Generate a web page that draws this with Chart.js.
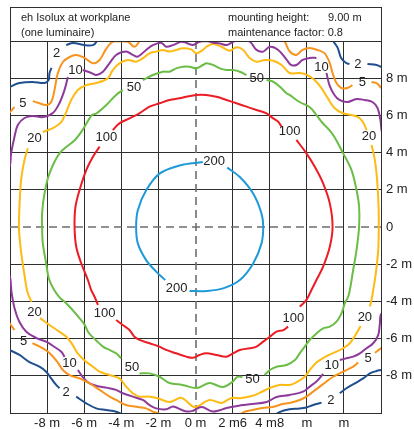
<!DOCTYPE html>
<html>
<head>
<meta charset="utf-8">
<script src="https://cdn.jsdelivr.net/npm/chart.js@4.4.1/dist/chart.umd.min.js"></script>
<style>
  html, body { margin: 0; padding: 0; background: #fff; }
  #box { width: 414px; height: 429px; }
</style>
</head>
<body>
<div id="box"><canvas id="isolux" width="414" height="429"></canvas></div>
<script>
// isolux levels and colours
const levels = ['2', '5', '10', '20', '50', '100', '200'];
const levelColors = ['#1f4f8f', '#f7941d', '#8e3a9a', '#fdbb13', '#6abd45', '#ec1c24', '#1e9ad8'];

// tick text for -10 .. 10 m, step 2
const xTickText = ['', '-8 m', '-6 m', '-4 m', '-2 m', '0 m', '2 m6', '4 m8', 'm', 'm', ''];
const yTickText = ['', '-8 m', '-6 m', '-4 m', '-2 m', '0', '2 m', '4 m', '6 m', '8 m', ''];

// header text
const titleLeft = ['eh Isolux at workplane', '(one luminaire)'];
const titleRight = ['mounting height:', 'maintenance factor: 0.8'];
const mountHeight = '9.00 m';

// contour lines in metres, split where a label sits
const lux2 = [
  [[-10.4,7.4],[-10.03,7.53],[-9.49,7.74],[-8.79,7.8],[-8.14,7.74],[-7.92,7.9],[-7.87,8.28],[-7.76,8.55]],
  [[-6.97,9.78],[-6.61,9.89],[-5.98,9.78],[-5.53,9.78],[-5.35,9.95],[-5.25,10.3]],
  [[7.3,10.4],[7.4,10.05],[7.67,9.62],[7.85,9.09],[8.12,8.82],[8.3,8.76]],
  [[9.27,8.76],[9.76,8.71],[10.03,8.6],[10.4,8.5]],
  [[-10.4,-6.45],[-10.03,-6.61],[-9.49,-6.88],[-8.95,-7.26],[-8.41,-7.51],[-8.05,-7.78],[-7.78,-8.14],[-7.51,-8.49],[-7.33,-8.67]],
  [[-6.43,-9.12],[-5.89,-9.48],[-5.35,-9.75],[-4.82,-9.84],[-4.28,-9.93],[-4.01,-10.05],[-3.8,-10.3]],
  [[4.0,-10.3],[4.53,-9.95],[5.07,-9.8],[5.6,-9.76],[5.98,-9.7],[6.34,-9.57],[6.79,-9.45]],
  [[7.78,-8.94],[8.14,-8.67],[8.59,-8.41],[9.04,-8.14],[9.4,-7.87],[9.76,-7.74],[9.99,-7.69],[10.4,-7.6]]
];
const lux5 = [
  [[-10.3,5.7],[-10.03,6.13],[-9.76,6.45]],
  [[-8.77,6.77],[-8.41,6.65],[-8.05,6.56],[-7.78,6.72],[-7.6,7.37],[-7.42,8.28],[-7.15,8.87],[-6.79,9.14],[-6.43,9.25],[-5.98,9.09],[-5.53,8.8],[-5.17,8.98],[-4.85,9.52],[-4.55,9.91],[-4.28,10.0],[-3.65,9.96],[-3.29,9.69],[-3.02,10.0],[-2.9,10.3]],
  [[4.5,10.4],[4.82,9.96],[5.07,9.45],[5.44,9.25],[5.77,9.52],[6.15,9.62],[6.58,9.52],[6.95,9.35],[7.22,8.87],[7.39,8.28],[7.6,7.74],[7.87,7.47],[8.19,7.47],[8.46,7.63]],
  [[9.49,7.8],[9.76,7.74],[9.97,7.53],[10.3,7.2]],
  [[-10.3,-4.8],[-10.03,-5.16],[-9.76,-5.54]],
  [[-8.79,-6.24],[-8.25,-6.51],[-7.87,-6.77],[-7.44,-7.26],[-7.15,-7.69],[-6.79,-7.96],[-6.25,-8.14],[-5.71,-8.41],[-5.17,-8.76],[-4.63,-9.12],[-4.28,-9.3],[-3.74,-9.57],[-3.2,-9.66],[-2.66,-9.75],[-2.3,-9.93],[-1.94,-10.05],[-1.7,-10.3]],
  [[2.2,-10.3],[2.6,-9.95],[3.07,-9.84],[3.61,-9.73],[4.15,-9.68],[4.69,-9.52],[5.07,-9.46],[5.62,-9.3],[5.98,-9.12],[6.34,-8.85],[6.7,-8.58],[7.06,-8.31],[7.42,-8.05],[7.78,-7.87],[8.14,-7.69],[8.5,-7.51],[8.77,-7.29]],
  [[9.67,-6.76],[9.99,-6.52],[10.3,-6.3]]
];
const lux10 = [
  [[-10.4,2.9],[-10.03,3.24],[-9.94,3.96],[-9.76,4.84],[-9.58,5.48],[-9.22,5.86],[-8.77,5.97],[-8.23,5.91],[-7.69,6.13],[-7.33,6.67],[-7.06,7.37],[-6.88,8.06]],
  [[-6.07,8.44],[-5.62,8.28],[-5.35,8.17],[-4.99,8.35],[-4.64,8.8],[-4.28,9.25],[-3.74,9.43],[-3.38,9.25],[-3.11,9.16],[-2.66,9.52],[-2.3,9.78],[-1.85,9.91],[-1.58,9.69],[-1.22,9.78],[-0.77,9.96],[-0.5,9.91],[-0.14,9.78],[0.21,9.96],[0.59,10.0],[0.95,9.91],[1.31,9.87],[1.67,9.78],[2.03,9.96],[2.39,10.05],[2.93,9.96],[3.29,9.52],[3.65,9.43],[4.01,9.69],[4.46,9.52],[4.91,9.0],[5.15,8.72],[5.44,8.71],[5.77,8.98],[6.15,9.09],[6.52,9.09]],
  [[7.06,8.28],[7.22,7.63],[7.49,7.1],[7.76,6.83],[8.19,6.72],[8.68,6.88],[9.11,6.83],[9.54,6.72],[9.81,6.4],[9.97,5.75],[10.05,5.1],[10.3,4.6]],
  [[-10.4,-2.1],[-10.03,-2.58],[-9.92,-3.49],[-9.76,-4.35],[-9.49,-5.11],[-9.11,-5.65],[-8.57,-5.97],[-8.03,-6.18],[-7.6,-6.45],[-7.22,-6.72],[-7.06,-6.99]],
  [[-6.34,-7.69],[-6.07,-8.08],[-5.71,-8.41],[-5.17,-8.58],[-4.64,-8.67],[-4.28,-8.76],[-3.92,-8.94],[-3.38,-9.12],[-2.84,-9.3],[-2.48,-9.57],[-2.12,-9.75],[-1.58,-9.8],[-1.2,-9.65],[-0.59,-9.89],[-0.2,-9.9],[0.32,-9.68],[0.92,-9.92],[1.3,-9.85],[1.67,-9.73],[2.26,-9.62],[3.07,-9.52],[3.83,-9.41],[4.37,-9.14],[5.07,-9.03],[5.8,-8.85],[6.16,-8.58],[6.52,-8.31],[6.88,-7.9]],
  [[7.78,-7.15],[8.14,-7.06],[8.5,-6.97],[8.86,-6.79],[9.22,-6.52],[9.58,-6.25],[9.85,-5.81],[9.94,-5.18],[9.99,-4.73],[10.3,-4.3]]
];
const lux20 = [
  [[-8.23,5.11],[-7.69,5.32],[-7.24,5.64],[-6.97,6.18],[-6.7,6.83],[-6.34,7.37],[-5.89,7.63],[-5.35,7.74],[-4.73,7.99],[-4.46,8.44],[-4.1,8.8],[-3.65,8.98],[-3.2,8.89],[-2.84,9.07],[-2.48,9.34],[-2.12,9.43],[-1.76,9.52],[-1.4,9.43],[-1.04,9.52],[-0.68,9.61],[-0.23,9.55],[0.04,9.34],[0.4,9.52],[0.59,9.69],[0.95,9.84],[1.4,9.69],[1.85,9.48],[2.21,9.66],[2.57,9.52],[2.93,9.07],[3.29,8.89],[3.74,8.98],[4.19,8.94],[4.64,8.71],[5.07,8.28],[5.61,8.28],[6.04,8.17],[6.42,7.9],[6.79,7.47],[7.12,6.94],[7.49,6.4],[7.92,6.13],[8.41,6.02],[8.84,5.86],[9.11,5.48],[9.22,5.21]],
  [[9.49,4.41],[9.67,3.6],[9.79,2.53],[9.87,1.09],[9.88,0.02],[9.85,-1.24],[9.72,-2.49],[9.58,-3.39],[9.49,-3.92],[9.4,-4.28]],
  [[8.9,-5.32],[8.68,-5.72],[8.32,-6.25],[7.96,-6.52],[7.6,-6.7],[7.06,-6.94],[6.52,-7.29],[6.16,-7.69],[5.89,-8.05],[5.44,-8.35],[5.07,-8.49],[4.53,-8.49],[3.99,-8.66],[3.45,-8.92],[3.02,-9.09],[2.48,-9.2],[1.94,-9.19],[1.4,-9.46],[0.75,-9.3],[-0.05,-9.68],[-0.75,-9.19],[-1.4,-9.41],[-2.03,-9.21],[-2.48,-9.12],[-3.02,-9.12],[-3.38,-8.94],[-3.74,-8.58],[-4.1,-8.14],[-4.64,-7.96],[-5.17,-7.78],[-5.53,-7.51],[-5.95,-7.2],[-6.35,-6.8],[-6.65,-6.3],[-6.96,-5.9],[-7.38,-5.6],[-7.87,-5.27],[-8.38,-4.9]],
  [[-8.84,-4.03],[-9.06,-3.49],[-9.22,-2.58],[-9.38,-1.51],[-9.49,-0.5],[-9.52,0.02],[-9.49,1.09],[-9.4,2.53],[-9.22,3.6],[-9.04,4.23]]
];
const lux50 = [
  [[-2.84,7.9],[-2.3,8.17],[-1.76,8.35],[-1.4,8.35],[-1.04,8.53],[-0.68,8.62],[-0.32,8.62],[0.04,8.53],[0.4,8.71],[0.59,8.8],[0.95,8.71],[1.31,8.53],[1.67,8.44],[2.03,8.44],[2.39,8.35],[2.75,8.17]],
  [[3.83,7.9],[4.19,7.81],[4.55,7.54],[4.91,7.19],[5.07,7.1],[5.61,6.72],[6.15,6.45],[6.52,6.02],[6.85,5.59],[7.22,5.21],[7.49,4.84],[7.96,3.96],[8.41,3.06],[8.68,1.99],[8.82,1.09],[8.82,0.02],[8.68,-1.24],[8.5,-2.31],[8.32,-3.39],[8.23,-3.75],[8.05,-4.1],[7.87,-4.64],[7.6,-5.09],[7.24,-5.36],[6.88,-5.45],[6.52,-5.72],[6.16,-6.07],[5.89,-6.43],[5.62,-6.79],[5.36,-7.15],[4.91,-7.42],[4.37,-7.51],[4.01,-7.69],[3.72,-7.96]],
  [[2.53,-8.06],[2.26,-8.06],[1.99,-8.33],[1.46,-8.6],[0.75,-8.39],[0.05,-8.66],[-0.7,-8.49],[-1.4,-8.39],[-1.94,-8.05],[-2.48,-7.87],[-3.02,-7.87]],
  [[-4.01,-7.06],[-4.28,-6.79],[-4.64,-6.61],[-4.99,-6.43],[-5.35,-6.1],[-5.75,-5.7],[-5.98,-5.25],[-6.3,-4.84],[-6.7,-4.38],[-7.0,-4.07],[-7.33,-3.78],[-7.65,-3.33],[-7.9,-2.8],[-8.05,-1.95],[-8.23,-0.88],[-8.27,0.02],[-8.27,0.73],[-8.14,1.81],[-7.87,2.88],[-7.33,3.96],[-6.5,4.68],[-6.1,5.2],[-5.6,6.0],[-5.35,6.1],[-4.82,6.55],[-4.28,7.1],[-3.92,7.36]]
];
const lux100 = [
  [[-4.46,5.21],[-4.1,5.57],[-3.56,5.84],[-3.02,6.11],[-2.48,6.47],[-1.94,6.65],[-1.4,6.83],[-0.86,6.92],[-0.5,7.0],[0.04,7.1],[0.58,7.1],[1.13,7.0],[1.67,6.83],[2.21,6.65],[2.75,6.47],[3.29,6.29],[3.83,6.11],[4.19,5.84],[4.46,5.66],[4.64,5.39]],
  [[5.44,4.68],[5.98,3.96],[6.43,3.24],[6.88,2.35],[7.24,1.27],[7.39,0.02],[7.24,-1.06],[6.88,-2.13],[6.52,-2.85],[6.25,-3.39],[5.98,-3.92],[5.62,-4.28]],
  [[4.99,-5.36],[4.73,-5.54],[4.37,-5.63],[4.01,-5.9],[3.65,-6.16],[3.29,-6.43],[2.93,-6.52],[2.39,-6.61],[2.03,-6.79],[1.67,-6.97],[1.13,-6.88],[0.59,-6.79],[0.21,-6.88],[-0.14,-7.03],[-0.5,-6.97],[-1.04,-6.79],[-1.58,-6.61],[-1.94,-6.43],[-2.48,-6.25],[-3.02,-6.07],[-3.29,-5.9],[-3.56,-5.54],[-3.92,-5.27],[-4.28,-5.0]],
  [[-5.26,-4.19],[-5.44,-3.75],[-5.62,-3.39],[-5.8,-2.85],[-6.16,-1.95],[-6.43,-1.06],[-6.52,0.02],[-6.47,1.09],[-6.25,1.99],[-5.89,3.06],[-5.53,3.78],[-5.17,4.32]]
];
const lux200 = [
  [[1.71,3.19],[2.39,2.69],[3.11,1.8],[3.56,0.72],[3.65,0],[3.56,-0.88],[3.11,-1.96],[2.39,-2.85],[1.49,-3.3],[0.59,-3.44],[-0.32,-3.44]],
  [[-1.63,-2.85],[-2.12,-2.4],[-2.66,-1.78],[-3.11,-0.88],[-3.2,0],[-3.11,0.9],[-2.66,1.97],[-1.94,2.87],[-0.86,3.31],[0.39,3.49]]
];

// where each level's number is written, metres
const labelSpots = [
  [[-7.49,9.35],[8.75,8.76],[-6.98,-8.92],[7.3,-9.3]],
  [[-9.31,6.65],[9.0,7.77],[-9.27,-6.13],[9.3,-7.04]],
  [[-6.47,8.44],[6.79,8.6],[-6.79,-7.31],[7.34,-7.42]],
  [[-8.68,4.78],[9.35,4.87],[-8.68,-4.57],[9.13,-4.84]],
  [[-3.32,7.53],[3.3,7.98],[-3.42,-7.53],[3.07,-8.2]],
  [[-4.8,4.8],[5.07,5.13],[-4.9,-4.62],[5.28,-4.89]],
  [[1.0,3.5],[-1.02,-3.28]]
];

const contours = [lux2, lux5, lux10, lux20, lux50, lux100, lux200];

const datasets = [];
contours.forEach((pieces, i) => {
  pieces.forEach(piece => {
    datasets.push({
      label: levels[i],
      data: piece.map(([x, y]) => ({x, y})),
      showLine: true,
      borderColor: levelColors[i],
      borderWidth: 2,
      pointRadius: 0,
      tension: 0.35,
      fill: false,
      clip: 0
    });
  });
});

Chart.defaults.font.family = '"Liberation Sans", Arial, sans-serif';

const extras = {
  id: 'extras',
  beforeDatasetsDraw(chart) {
    const {ctx, chartArea: a, scales: {x, y}} = chart;
    const x0 = Math.round(x.getPixelForValue(0));
    const y0 = Math.round(y.getPixelForValue(0));
    ctx.save();
    ctx.strokeStyle = '#6e6e6e';
    ctx.lineWidth = 1.6;
    ctx.setLineDash([8, 5]);
    ctx.beginPath();
    ctx.moveTo(x0, a.top);
    ctx.lineTo(x0, a.bottom);
    ctx.moveTo(a.left, y0);
    ctx.lineTo(a.right, y0);
    ctx.stroke();
    ctx.restore();
  },
  afterDatasetsDraw(chart) {
    const {ctx, scales: {x, y}} = chart;
    ctx.save();
    ctx.fillStyle = '#222';
    ctx.font = '13px "Liberation Sans", Arial, sans-serif';
    ctx.textAlign = 'center';
    ctx.textBaseline = 'middle';
    labelSpots.forEach((spots, i) => {
      spots.forEach(([lx, ly]) => {
        ctx.fillText(levels[i], x.getPixelForValue(lx), y.getPixelForValue(ly));
      });
    });
    ctx.restore();
  },
  afterDraw(chart) {
    const {ctx, chartArea: a} = chart;
    ctx.save();
    ctx.strokeStyle = '#2e2e2e';
    ctx.lineWidth = 1;
    ctx.strokeRect(a.left + 0.5, 7.5, a.right - a.left, a.top - 7);
    ctx.fillStyle = '#222';
    ctx.font = '11px "Liberation Sans", Arial, sans-serif';
    ctx.textBaseline = 'middle';
    ctx.fillText(titleLeft[0], 21, 18);
    ctx.fillText(titleLeft[1], 21, 33);
    ctx.fillText(titleRight[0], 228, 18);
    ctx.fillText(mountHeight, 328, 18);
    ctx.fillText(titleRight[1], 228, 33);
    ctx.restore();
  }
};

const gridColor = c => (c.tick && c.tick.value === 0) ? 'rgba(0,0,0,0)' : '#2e2e2e';

new Chart(document.getElementById('isolux'), {
  type: 'scatter',
  data: { datasets },
  options: {
    responsive: false,
    animation: false,
    layout: { padding: { top: 41, left: 10, right: 0, bottom: 0 } },
    plugins: { legend: { display: false }, tooltip: { enabled: false } },
    scales: {
      x: {
        type: 'linear', position: 'bottom', min: -10, max: 10,
        ticks: {
          stepSize: 2, autoSkip: false, maxRotation: 0, padding: 3,
          color: '#222', font: { size: 13 },
          callback: v => xTickText[Math.round((v + 10) / 2)]
        },
        grid: { color: gridColor, drawTicks: false, lineWidth: 1 },
        border: { display: true, color: '#2e2e2e' },
        afterFit: s => { s.height = 16; }
      },
      y: {
        type: 'linear', position: 'right', min: -10, max: 10,
        ticks: {
          stepSize: 2, autoSkip: false, padding: 5,
          color: '#222', font: { size: 13 },
          callback: v => yTickText[Math.round((v + 10) / 2)]
        },
        grid: { color: gridColor, drawTicks: false, lineWidth: 1 },
        border: { display: true, color: '#2e2e2e' },
        afterFit: s => { s.width = 33; }
      }
    }
  },
  plugins: [extras]
});
</script>
</body>
</html>
